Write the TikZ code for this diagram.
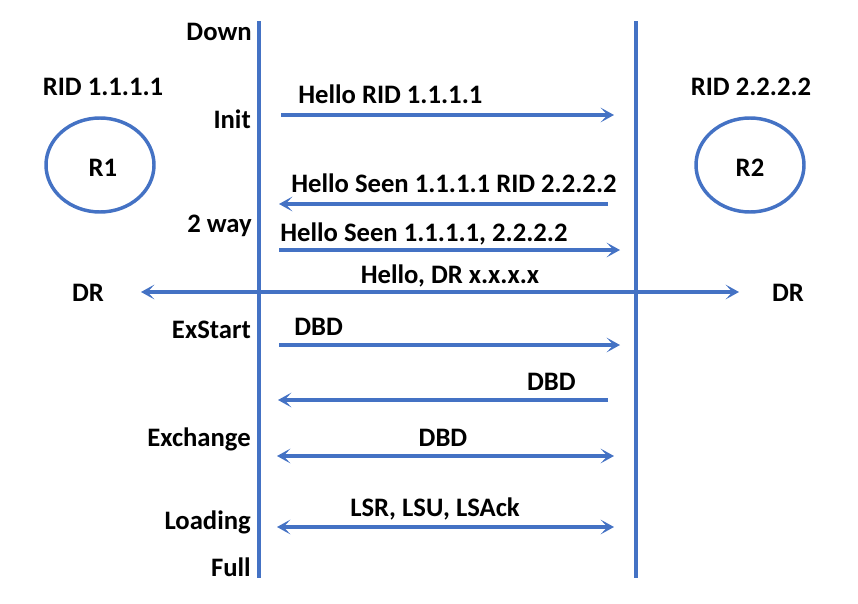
\documentclass[tikz,border=0pt]{standalone}
\usepackage{fontspec}
\setmainfont{Carlito}
\usetikzlibrary{arrows.meta}
\definecolor{ospf}{HTML}{4472C4}
\begin{document}
\begin{tikzpicture}[x=0.75pt,y=-0.75pt,
  txt/.style={font=\bfseries\fontsize{20}{24}\selectfont, inner sep=0pt, text=black},
  life/.style={draw=ospf, line width=2.6pt},
  msg/.style={draw=ospf, line width=3.4pt, -{Stealth[length=10pt,width=11pt,inset=5pt]}},
  bmsg/.style={draw=ospf, line width=3.4pt, {Stealth[length=10pt,width=11pt,inset=5pt]}-{Stealth[length=10pt,width=11pt,inset=5pt]}},
  router/.style={draw=ospf, line width=2.6pt}]
\useasboundingbox (0,0) rectangle (858,604);
% lifelines
\coordinate (L1) at (259,21); \coordinate (L2) at (259,578);
\coordinate (R1t) at (636,21); \coordinate (R2b) at (636,578);
\draw[life] (L1) -- (L2);
\draw[life] (R1t) -- (R2b);
% state labels
\node[txt, anchor=base east] (sDown) at (252,40) {Down};
\node[txt, anchor=base east] (sInit) at (251,128) {Init};
\node[txt, anchor=base east] (s2way) at (252,232) {2 way};
\node[txt, anchor=base east] (sEx) at (251,338) {ExStart};
\node[txt, anchor=base east] (sExch) at (251,446) {Exchange};
\node[txt, anchor=base east] (sLoad) at (251,529) {Loading};
\node[txt, anchor=base east] (sFull) at (251,576) {Full};
% routers
\node[txt, anchor=base] (rid1) at (103,95) {RID 1.1.1.1};
\node[txt, anchor=base] (rid2) at (751,95) {RID 2.2.2.2};
\draw[router] (100,165) ellipse (54 and 47);
\draw[router] (750,165) ellipse (54 and 47);
\node[txt, anchor=base] (r1) at (103,176) {R1};
\node[txt, anchor=base] (r2) at (750,176) {R2};
% messages
\coordinate (a1s) at (281,115); \coordinate (a1e) at (614,115);
\draw[msg] (a1s) -- (a1e);
\node[txt, anchor=base west] (m1) at (298,103) {Hello RID 1.1.1.1};
\coordinate (a2s) at (608,204); \coordinate (a2e) at (279,204);
\draw[msg] (a2s) -- (a2e);
\node[txt, anchor=base west] (m2) at (291,192) {Hello Seen 1.1.1.1 RID 2.2.2.2};
\coordinate (a3s) at (279,250); \coordinate (a3e) at (620,250);
\draw[msg] (a3s) -- (a3e);
\node[txt, anchor=base west] (m3) at (280,241) {Hello Seen 1.1.1.1, 2.2.2.2};
\coordinate (a4s) at (141,292); \coordinate (a4e) at (739,292);
\draw[bmsg] (a4s) -- (a4e);
\node[txt, anchor=base] (m4) at (450,283) {Hello, DR x.x.x.x};
\node[txt, anchor=base] (dr1) at (88,301) {DR};
\node[txt, anchor=base] (dr2) at (788,301) {DR};
\coordinate (a5s) at (279,345); \coordinate (a5e) at (620,345);
\draw[msg] (a5s) -- (a5e);
\node[txt, anchor=base west] (m5) at (294,335) {DBD};
\coordinate (a6s) at (608,400); \coordinate (a6e) at (278,400);
\draw[msg] (a6s) -- (a6e);
\node[txt, anchor=base east] (m6) at (576,390) {DBD};
\coordinate (a7s) at (277,456); \coordinate (a7e) at (614,456);
\draw[bmsg] (a7s) -- (a7e);
\node[txt, anchor=base] (m7) at (443,446) {DBD};
\coordinate (a8s) at (277,527); \coordinate (a8e) at (614,527);
\draw[bmsg] (a8s) -- (a8e);
\node[txt, anchor=base] (m8) at (435,516) {LSR, LSU, LSAck};
\end{tikzpicture}
\end{document}
